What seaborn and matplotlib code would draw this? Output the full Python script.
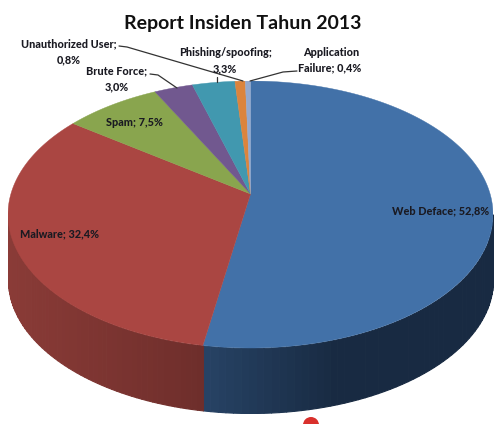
import numpy as np
import matplotlib
matplotlib.use("Agg")
import matplotlib.pyplot as plt
from matplotlib.colors import to_rgb
from matplotlib.patches import Circle
import seaborn as sns

categories = ["Web Deface", "Malware", "Spam", "Brute Force", "Phishing/spoofing",
              "Unauthorized User", "Application Failure"]
shares = [52.8, 32.4, 7.5, 3.0, 3.3, 0.8, 0.4]
top_colors = ["#4271A8", "#AA4642", "#89A54E", "#71588F", "#4198AF", "#DB843D", "#93A9CF"]
# Rim shade at the left and right end of each slice's visible wall
rim_left = ["#274365", "#8A3B37", "#6E843E", "#5A4672", "#34798C", "#AF6A31", "#7687A6"]
rim_right = ["#182A42", "#6E2E2B", "#56672F", "#463758", "#285E6C", "#885226", "#5B6981"]

sns.set_theme(style="white")
plt.rcParams["font.family"] = ["Lato", "DejaVu Sans"]

W, H = 495, 424
fig = plt.figure(figsize=(W / 100, H / 100), dpi=100, facecolor="white")

# Pixel box of the pie: top ellipse plus the extruded rim below it
left, right, top, rim_bottom = 8, 493, 81, 413
ry_px = 133.5
depth = (rim_bottom - top - 2 * ry_px) / ry_px
tilt = 0.154  # perspective strength: the far edge of the disc is foreshortened

ax = fig.add_axes([left / W, 1 - rim_bottom / H, (right - left) / W, (rim_bottom - top) / H])
ax.set_xlim(-1, 1)
ax.set_ylim(-1 - depth, 1)
ax.axis("off")


def project(theta):
    """Disc angle (clockwise from 12 o'clock) to tilted-disc coordinates."""
    u, v = np.sin(theta), np.cos(theta)
    w = 1 + tilt * v
    return np.sqrt(1 - tilt ** 2) * u / w, (1 - tilt ** 2) * v / w + tilt


fractions = np.array(shares) / sum(shares)
edges = np.concatenate([[0], np.cumsum(fractions)]) * 2 * np.pi

# Visible wall runs between the two silhouette tangents of the disc
wall_start, wall_end = np.arccos(-tilt), 2 * np.pi - np.arccos(-tilt)
for i in range(len(shares)):
    a0, a1 = max(edges[i], wall_start), min(edges[i + 1], wall_end)
    if a1 <= a0:
        continue
    lc, rc = np.array(to_rgb(rim_left[i])), np.array(to_rgb(rim_right[i]))
    steps = np.linspace(a0, a1, 60)
    xa, _ = project(steps)
    for j in range(len(steps) - 1):
        seg = np.linspace(steps[j], steps[j + 1], 3)
        xs, ys = project(seg)
        t = (xs.mean() - xa.min()) / (xa.max() - xa.min())
        if i == 0:
            t = min(t * 2.2, 1)  # blue wall reaches its darkest tone early
        col = lc * (1 - t) + rc * t
        ax.fill_between(xs, ys - depth, ys, color=col, lw=0.8)

# Top face
for i, c in enumerate(top_colors):
    arc = np.linspace(edges[i], edges[i + 1], 200)
    xs, ys = project(arc)
    ax.fill(np.r_[0, xs], np.r_[tilt, ys], color=c, lw=0.3)

# Overlay in pixel coordinates for the title, labels and leader lines
ov = fig.add_axes([0, 0, 1, 1])
ov.set_xlim(0, W)
ov.set_ylim(H, 0)
ov.axis("off")
ov.patch.set_alpha(0)

ov.text(243, 23, "Report Insiden Tahun 2013", ha="center", va="center",
        fontsize=14, fontweight="bold", color="#111111")

labels = [
    (69, 44, "Unauthorized User;"), (69, 60, "0,8%"),
    (226, 53, "Phishing/spoofing;"), (225, 69, "3,3%"),
    (331, 52, "Application"), (330, 68, "Failure; 0,4%"),
    (117, 71, "Brute Force;"), (117, 87, "3,0%"),
    (134, 122, "Spam; 7,5%"),
    (441, 211, "Web Deface; 52,8%"),
    (60, 234, "Malware; 32,4%"),
]
for x, y, s in labels:
    ov.text(x, y, s, ha="center", va="center", fontsize=7.8, fontweight="black",
            color="#1a1a22")

leaders = [
    ([119, 127, 243], [46, 47, 81]),
    ([150, 158, 177], [74, 75, 88]),
    ([217, 217], [77, 82]),
    ([297, 283, 250], [71, 72, 81]),
]
for xs, ys in leaders:
    ov.plot(xs, ys, color="#333333", lw=0.9)

ov.add_patch(Circle((311, 425), 8, color="#D9302C", lw=0))

fig.savefig("out.png", dpi=100, facecolor="white")
